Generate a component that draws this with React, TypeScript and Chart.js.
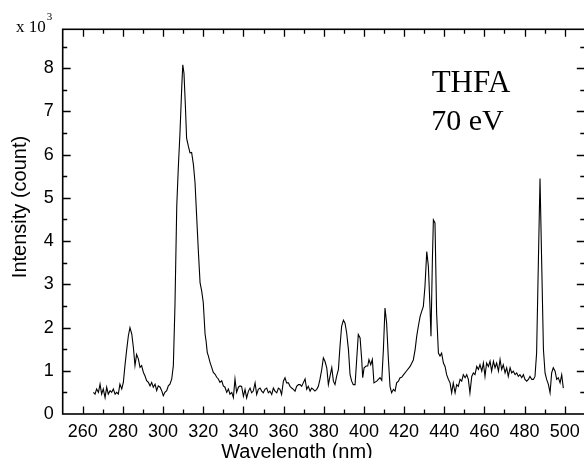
import React, { useEffect, useRef } from "react";
import { Chart, registerables } from "chart.js";

Chart.register(...registerables);

// ---- data ----
const wavelength: number[] = [
  265.3, 266.1, 266.9, 267.8, 268.6, 269.4, 270.2, 271.1, 271.9, 272.7, 273.6, 274.4, 275.2, 276.1, 276.9, 277.7,
  278.5, 279.4, 280.2, 281.0, 281.9, 282.7, 283.5, 284.4, 285.2, 286.0, 286.8, 287.7, 288.5, 289.3, 290.2, 291.0,
  291.8, 292.7, 293.5, 294.3, 295.1, 296.0, 296.8, 297.6, 298.5, 299.3, 300.1, 300.9, 301.8, 302.6, 303.4, 304.3,
  305.1, 305.9, 306.8, 307.6, 308.4, 309.3, 309.8, 310.4, 311.1, 311.7, 312.6, 313.4, 314.2, 315.1, 315.9, 316.7,
  317.6, 318.4, 319.2, 320.0, 320.9, 321.4, 322.0, 322.5, 323.4, 324.2, 325.0, 325.9, 326.7, 327.5, 328.3, 329.2,
  330.0, 330.8, 331.7, 332.5, 333.3, 334.2, 335.0, 335.8, 336.6, 337.5, 338.3,
  339.1, 340.0, 340.8, 341.6, 342.5, 343.3, 344.1, 344.9, 345.8, 346.6, 347.4, 348.3, 349.1, 349.9, 350.7, 351.6,
  352.4, 353.2, 354.1, 354.9, 355.7, 356.6, 357.4, 358.2, 359.0, 359.9, 360.7, 361.5, 362.4, 363.2, 364.0, 364.9,
  365.7, 366.5, 367.4, 368.2, 369.0, 369.8, 370.7, 371.5, 372.3, 373.2, 374.0, 374.8, 375.6, 376.5, 377.3, 378.1,
  379.0, 379.8, 380.6, 381.5, 382.3, 383.1, 384.0, 384.8, 385.6, 386.4, 387.3, 388.1, 388.9, 389.8, 390.6, 391.4,
  392.3, 393.1, 393.9, 394.7, 395.6, 396.4, 397.2, 398.1, 398.9, 399.4, 400.1, 401.1, 401.9, 402.5, 403.4, 404.2,
  405.0, 406.4, 408.0, 408.9, 409.7, 410.5, 411.3, 412.2, 413.0, 413.8, 414.7, 415.5, 416.3, 417.2, 418.0, 418.8,
  419.6, 421.3, 423.0, 424.6, 425.5, 426.3, 427.1, 428.0, 428.8, 429.6, 430.4, 431.3, 432.1, 432.9, 433.4, 434.1,
  434.6, 435.4, 436.2, 437.1, 437.9, 438.7, 439.6, 440.4, 441.2, 442.1, 442.9, 443.7, 444.5, 445.4, 446.2, 447.0,
  447.9, 448.7, 449.5, 450.4, 451.2, 452.0, 452.8, 453.7, 454.5, 455.3, 456.2, 457.0, 457.8, 458.7, 459.5, 460.3,
  461.1, 462.0, 462.8, 463.6, 464.5, 465.3, 466.1, 467.0, 467.8, 468.6, 469.4, 470.3, 471.1, 471.9, 472.8, 473.6,
  474.4, 475.3, 476.1, 476.9, 477.7, 478.6, 479.4, 480.2, 481.1, 481.9, 482.7, 483.6, 484.4, 485.2, 486.0, 486.9,
  487.7, 488.5, 489.4, 490.2, 491.0, 491.9, 492.7, 493.5, 494.3, 495.2, 496.0, 496.8, 497.7, 498.5, 499.3,
];

// intensity in units of 10^3 counts
const intensity: number[] = [
  0.5, 0.46, 0.58, 0.5, 0.69, 0.46, 0.58, 0.38, 0.62, 0.46, 0.54, 0.5, 0.58, 0.46, 0.5, 0.46,
  0.69, 0.58, 0.73, 1.12, 1.5, 1.81, 2.0, 1.85, 1.54, 1.12, 1.38, 1.27, 1.08, 1.12, 0.96, 0.88,
  0.77, 0.73, 0.65, 0.73, 0.62, 0.69, 0.54, 0.65, 0.62, 0.54, 0.42, 0.5, 0.54, 0.65, 0.69, 0.81,
  1.12, 2.5, 4.81, 5.73, 6.5, 7.58, 8.08, 7.88, 7.12, 6.38, 6.19, 6.04, 6.05, 5.77, 5.35, 4.58,
  3.73, 3.04, 2.85, 2.58, 1.85, 1.69, 1.42, 1.35, 1.19, 1.08, 0.96, 0.92, 0.85, 0.81, 0.73, 0.77,
  0.65, 0.62, 0.5, 0.58, 0.46, 0.5, 0.38, 0.81, 0.5, 0.62, 0.65,
  0.64, 0.41, 0.57, 0.37, 0.53, 0.6, 0.49, 0.53, 0.72, 0.45, 0.57, 0.6, 0.53, 0.49, 0.57, 0.6,
  0.49, 0.53, 0.45, 0.6, 0.53, 0.49, 0.6, 0.57, 0.45, 0.76, 0.84, 0.72, 0.72, 0.64, 0.6, 0.57,
  0.53, 0.64, 0.68, 0.68, 0.64, 0.72, 0.81, 0.57, 0.64, 0.53, 0.6, 0.57, 0.53, 0.57, 0.64, 0.8,
  1.03, 1.3, 1.22, 1.07, 0.68, 0.87, 1.07, 0.76, 0.68, 0.87, 1.03, 1.57, 2.03, 2.17, 2.1, 1.88,
  1.49, 0.91, 0.76, 0.68, 0.68, 1.26, 1.84, 1.76, 1.26, 0.84, 1.07, 1.11, 1.11, 1.26, 1.14, 1.26,
  0.72, 0.76, 0.84, 0.78, 1.49, 2.45, 2.11, 1.26, 0.64, 0.49, 0.57, 0.53, 0.72, 0.76, 0.84, 0.85,
  0.9, 1.0, 1.1, 1.25, 1.49, 1.8, 2.03, 2.26, 2.38, 2.49, 2.95, 3.76, 3.42, 2.49, 1.8, 3.57,
  4.49, 4.42, 2.34, 1.41, 1.34, 1.41, 1.18, 1.1, 0.91, 0.8, 0.72, 0.49, 0.72, 0.49, 0.68, 0.64,
  0.8, 0.76, 0.91, 0.84, 0.91, 0.8, 0.49, 0.87, 0.95, 0.91, 1.1, 1.03, 1.14, 0.99, 1.18, 0.87,
  1.18, 1.1, 1.22, 0.99, 1.22, 1.07, 1.18, 0.99, 1.26, 1.03, 1.14, 0.95, 1.07, 0.87, 1.07, 0.95,
  0.99, 0.91, 0.95, 0.87, 0.91, 0.84, 0.91, 0.8, 0.76, 0.8, 0.87, 0.8, 0.8, 0.87, 1.41, 3.57,
  5.45, 3.57, 1.49, 0.95, 0.8, 0.68, 0.49, 0.95, 1.07, 0.99, 0.8, 0.84, 0.72, 0.91, 0.6,
];

const xTickValues: number[] = [260, 280, 300, 320, 340, 360, 380, 400, 420, 440, 460, 480, 500];
const yTickValues: number[] = [0, 1, 2, 3, 4, 5, 6, 7, 8];
const xMin = 250;
const xMax = 510;
const yMin = 0;
const yMax = 8.9;
const xMinorStep = 10;
const yMinorStep = 0.5;

const xTitle = "Wavelength (nm)";
const yTitle = "Intensity (count)";
const scaleLabel = "x 10";
const scaleExponent = "3";
const sampleName = "THFA";
const energyLabel = "70 eV";

const CANVAS_W = 592;
const CANVAS_H = 458;

const SANS = '"Liberation Sans", Arial, sans-serif';
const SERIF = '"Liberation Serif", "Times New Roman", serif';

const decorPlugin = {
  id: "decor",
  afterDraw(chart: any) {
    const ctx: CanvasRenderingContext2D = chart.ctx;
    const { left, right, top, bottom } = chart.chartArea;
    const xs = chart.scales.x;
    const ys = chart.scales.y;
    ctx.save();
    ctx.strokeStyle = "#000";
    ctx.lineWidth = 1.6;
    ctx.strokeRect(left, top, right - left, bottom - top);

    ctx.lineWidth = 1.3;
    ctx.beginPath();
    for (let v = xMin + xMinorStep; v < xMax; v += xMinorStep) {
      const px = Math.round(xs.getPixelForValue(v)) + 0.5;
      const major = xTickValues.includes(v);
      const len = major ? 7.5 : 4.5;
      ctx.moveTo(px, bottom);
      ctx.lineTo(px, bottom - len);
      ctx.moveTo(px, top);
      ctx.lineTo(px, top + len);
    }
    for (let v = yMin + yMinorStep; v < yMax; v += yMinorStep) {
      const py = Math.round(ys.getPixelForValue(v)) + 0.5;
      const major = Math.abs(v - Math.round(v)) < 1e-6;
      const len = major ? 8 : 4.5;
      ctx.moveTo(left, py);
      ctx.lineTo(left + len, py);
      ctx.moveTo(right, py);
      ctx.lineTo(right - len, py);
    }
    ctx.stroke();

    ctx.fillStyle = "#000";
    // x 10^3 multiplier
    ctx.textAlign = "left";
    ctx.textBaseline = "alphabetic";
    ctx.font = `17px ${SERIF}`;
    ctx.fillText(scaleLabel, 16, 31.5);
    const w = ctx.measureText(scaleLabel).width;
    ctx.font = `11px ${SERIF}`;
    ctx.fillText(scaleExponent, 16 + w + 1, 19.5);

    // annotation
    ctx.textAlign = "center";
    ctx.font = `31px ${SERIF}`;
    ctx.fillText(sampleName, 471, 91.5);
    ctx.font = `30px ${SERIF}`;
    ctx.fillText(energyLabel, 467.5, 130);

    // axis titles
    ctx.font = `20px ${SANS}`;
    ctx.fillText(xTitle, 297, 457.5);
    ctx.save();
    ctx.translate(20, 207);
    ctx.rotate(-Math.PI / 2);
    ctx.textBaseline = "middle";
    ctx.fillText(yTitle, 0, 0);
    ctx.restore();

    ctx.restore();
  },
};

export default function App() {
  const ref = useRef<HTMLCanvasElement | null>(null);

  useEffect(() => {
    if (!ref.current) return;
    const points = wavelength.map((w, i) => ({ x: w, y: intensity[i] }));
    const chart = new Chart(ref.current, {
      type: "line",
      data: {
        datasets: [
          {
            data: points,
            borderColor: "#000",
            borderWidth: 1.1,
            pointRadius: 0,
            tension: 0,
            fill: false,
          },
        ],
      },
      options: {
        responsive: false,
        animation: false,
        devicePixelRatio: 1,
        layout: { padding: { top: 29.3, right: CANVAS_W - 584.8, left: 0, bottom: 0 } },
        plugins: { legend: { display: false }, tooltip: { enabled: false }, title: { display: false } },
        scales: {
          x: {
            type: "linear",
            min: xMin,
            max: xMax,
            grid: { display: false, drawTicks: false },
            border: { display: false },
            afterBuildTicks: (scale: any) => {
              scale.ticks = xTickValues.map((v) => ({ value: v }));
            },
            afterFit: (scale: any) => {
              scale.height = CANVAS_H - 414;
            },
            ticks: {
              color: "#000",
              padding: 7,
              maxRotation: 0,
              autoSkip: false,
              font: { family: SANS, size: 18 },
              callback: (v: any) => String(v),
            },
          },
          y: {
            type: "linear",
            min: yMin,
            max: yMax,
            grid: { display: false, drawTicks: false },
            border: { display: false },
            afterBuildTicks: (scale: any) => {
              scale.ticks = yTickValues.map((v) => ({ value: v }));
            },
            afterFit: (scale: any) => {
              scale.width = 62.7;
            },
            ticks: {
              color: "#000",
              padding: 9,
              autoSkip: false,
              font: { family: SANS, size: 18 },
              callback: (v: any) => String(v),
            },
          },
        },
      },
      plugins: [decorPlugin],
    });
    return () => chart.destroy();
  }, []);

  return (
    <div
      style={{
        position: "fixed",
        left: 0,
        top: 0,
        width: 584,
        height: 458,
        overflow: "hidden",
        background: "#fff",
      }}
    >
      <canvas ref={ref} width={CANVAS_W} height={CANVAS_H} style={{ display: "block", width: CANVAS_W, height: CANVAS_H }} />
    </div>
  );
}
